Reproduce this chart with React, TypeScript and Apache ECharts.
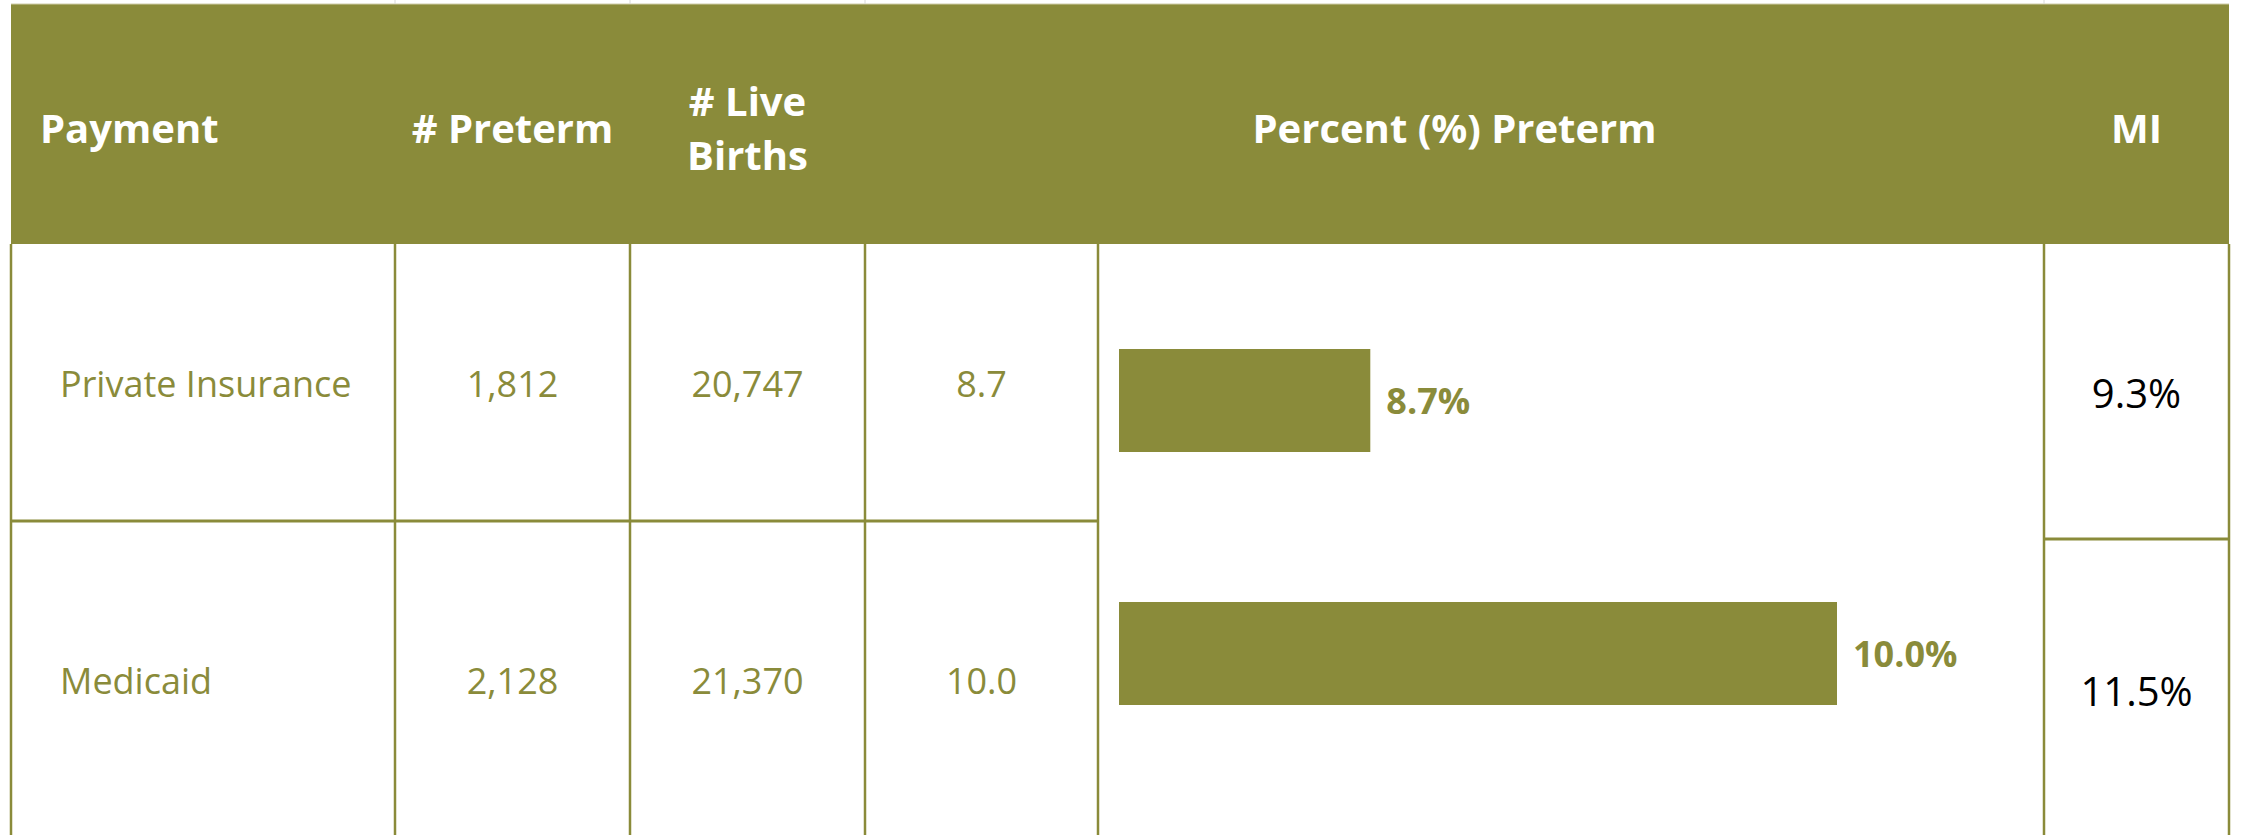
import React, { useEffect, useRef } from "react";
import * as echarts from "echarts";

const payments = ["Private Insurance", "Medicaid"];
const pretermCounts = [1812, 2128];
const liveBirths = [20747, 21370];
const percentPreterm = [8.7, 10.0];
const miPercent = [9.3, 11.5];
const headers = ["Payment", "# Preterm", "# Live\nBirths", "Percent (%) Preterm", "MI"];

const GREEN = "#8A8B3A";
const FONT = "'Open Sans', 'Noto Sans', sans-serif";

export default function App() {
  const ref = useRef<HTMLDivElement>(null);
  useEffect(() => {
    if (!ref.current) return;
    const chart = echarts.init(ref.current, undefined, { renderer: "svg" });

    const colX = [11, 395, 630, 865, 1098, 2044, 2229];
    const headTop = 4;
    const headBottom = 244;
    const bottom = 835;
    const rowCentersLeft = [383, 680];
    const rowCentersMI = [392, 690];

    const g: any[] = [];
    g.push({
      type: "rect",
      shape: { x: colX[0], y: headTop, width: colX[6] - colX[0], height: headBottom - headTop },
      style: { fill: GREEN },
      silent: true,
    });
    g.push({
      type: "line",
      shape: { x1: colX[0], y1: headTop, x2: colX[6], y2: headTop },
      style: { stroke: "#CFCDA8", lineWidth: 1 },
    });
    [colX[1], colX[2], colX[3], colX[5]].forEach((x) => {
      g.push({
        type: "line",
        shape: { x1: x, y1: 0, x2: x, y2: headTop },
        style: { stroke: "#D8D8D8", lineWidth: 1 },
      });
    });
    colX.forEach((x) => {
      g.push({
        type: "line",
        shape: { x1: x, y1: headBottom, x2: x, y2: bottom },
        style: { stroke: GREEN, lineWidth: 2.5 },
      });
    });
    g.push({
      type: "line",
      shape: { x1: colX[0], y1: 521, x2: colX[4], y2: 521 },
      style: { stroke: GREEN, lineWidth: 3 },
    });
    g.push({
      type: "line",
      shape: { x1: colX[5], y1: 539, x2: colX[6], y2: 539 },
      style: { stroke: GREEN, lineWidth: 3 },
    });

    const headStyle = { fill: "#FFFFFF", fontFamily: FONT, fontWeight: "bold", fontSize: 40 } as any;
    const headY = 127;
    g.push({ type: "text", x: 40, y: headY, style: { ...headStyle, text: headers[0], align: "left", verticalAlign: "middle" } });
    g.push({ type: "text", x: (colX[1] + colX[2]) / 2, y: headY, style: { ...headStyle, text: headers[1], align: "center", verticalAlign: "middle" } });
    g.push({ type: "text", x: (colX[2] + colX[3]) / 2, y: headY, style: { ...headStyle, text: headers[2], align: "center", verticalAlign: "middle", lineHeight: 54 } });
    g.push({ type: "text", x: (colX[3] + colX[5]) / 2, y: headY, style: { ...headStyle, text: headers[3], align: "center", verticalAlign: "middle" } });
    g.push({ type: "text", x: (colX[5] + colX[6]) / 2, y: headY, style: { ...headStyle, text: headers[4], align: "center", verticalAlign: "middle" } });

    const cellStyle = { fill: GREEN, fontFamily: FONT, fontSize: 36, verticalAlign: "middle" } as any;
    payments.forEach((p, i) => {
      const y = rowCentersLeft[i];
      g.push({ type: "text", x: 60, y, style: { ...cellStyle, text: p, align: "left" } });
      g.push({ type: "text", x: (colX[1] + colX[2]) / 2, y, style: { ...cellStyle, text: pretermCounts[i].toLocaleString("en-US"), align: "center" } });
      g.push({ type: "text", x: (colX[2] + colX[3]) / 2, y, style: { ...cellStyle, text: liveBirths[i].toLocaleString("en-US"), align: "center" } });
      g.push({ type: "text", x: (colX[3] + colX[4]) / 2, y, style: { ...cellStyle, text: percentPreterm[i].toFixed(1), align: "center" } });
      g.push({
        type: "text",
        x: (colX[5] + colX[6]) / 2,
        y: rowCentersMI[i],
        style: { ...cellStyle, fontSize: 40, fill: "#000000", text: miPercent[i].toFixed(1) + "%", align: "center" },
      });
    });

    chart.setOption({
      animation: false,
      backgroundColor: "#FFFFFF",
      grid: { left: 1119, top: 274, width: 897.5, height: 506, containLabel: false },
      xAxis: { type: "value", min: 8, max: 10.5, show: false },
      yAxis: { type: "category", data: payments, inverse: true, show: false },
      series: [
        {
          type: "bar",
          data: percentPreterm,
          barWidth: 103,
          itemStyle: { color: GREEN },
          label: {
            show: true,
            position: "right",
            distance: 16,
            color: GREEN,
            fontFamily: FONT,
            fontWeight: "bold",
            fontSize: 36,
            formatter: (p: any) => Number(p.value).toFixed(1) + "%",
          },
          z: 5,
        },
      ],
      graphic: { elements: g.map((e) => ({ ...e, z: e.type === "text" ? 10 : 1 })) },
    });
    return () => chart.dispose();
  }, []);
  return <div ref={ref} style={{ position: "fixed", left: 0, top: 0, width: 2241, height: 835 }} />;
}
